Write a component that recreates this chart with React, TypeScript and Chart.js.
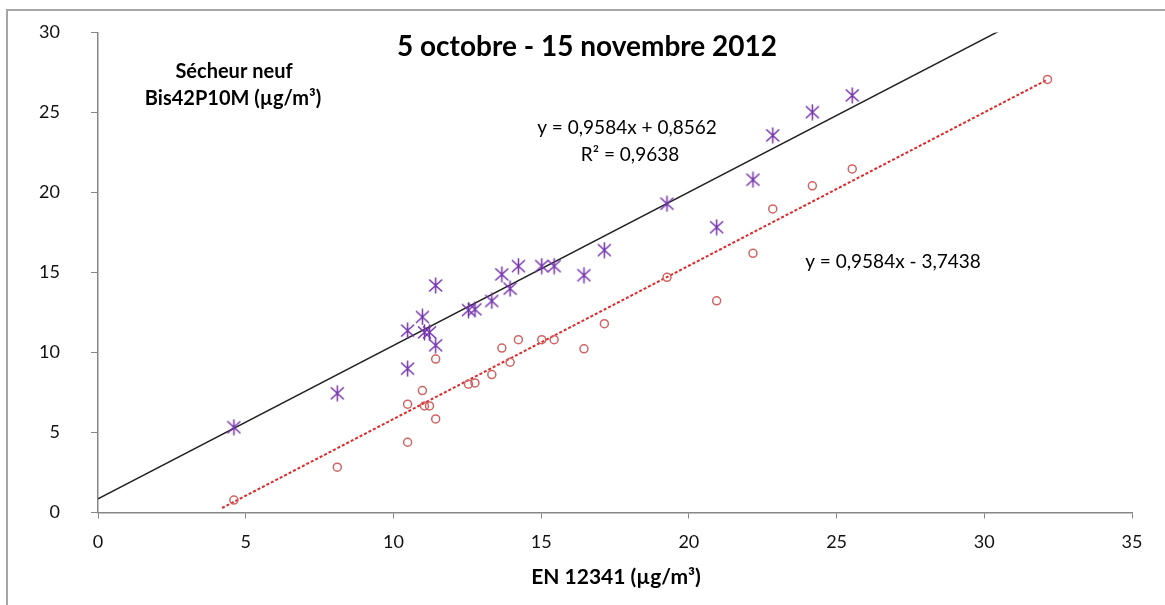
import React, { useEffect, useRef } from "react";
import { Chart, registerables } from "chart.js";

Chart.register(...registerables);

// ---- Data ----
const EN12341_X = [
  4.6, 8.1, 10.48, 10.48, 10.98, 11.05, 11.22, 11.43, 11.43, 12.54, 12.76, 13.33, 13.67,
  13.95, 14.23, 15.02, 15.44, 16.45, 17.14, 19.26, 20.94, 22.17, 22.84, 24.18, 25.53, 32.14,
];
const BIS_RAW_Y = [
  5.33, 7.45, 8.99, 11.37, 12.22, 11.26, 11.26, 10.45, 14.19, 12.65, 12.7, 13.22, 14.88,
  13.99, 15.4, 15.4, 15.4, 14.83, 16.4, 19.3, 17.83, 20.8, 23.57, 25.02, 26.07, 31.67,
];
const BIS_CORR_Y = [
  0.78, 2.83, 4.39, 6.77, 7.62, 6.66, 6.66, 5.85, 9.59, 8.02, 8.1, 8.62, 10.28,
  9.39, 10.8, 10.8, 10.8, 10.23, 11.8, 14.7, 13.23, 16.2, 18.97, 20.42, 21.47, 27.07,
];

const SLOPE = 0.9584;
const INTERCEPT_RAW = 0.8562;
const INTERCEPT_CORR = -3.7438;
const TREND_RAW_X = [0, 32.14];
const TREND_CORR_X = [4.2, 32.14];

const X_TICKS = [0, 5, 10, 15, 20, 25, 30, 35];
const Y_TICKS = [0, 5, 10, 15, 20, 25, 30];

const TITLE = "5 octobre - 15 novembre 2012";
const Y_TITLE = ["Sécheur neuf", "Bis42P10M (µg/m³)"];
const X_TITLE = "EN 12341 (µg/m³)";
const EQ_RAW = ["y = 0,9584x + 0,8562", "R² = 0,9638"];
const EQ_CORR = "y = 0,9584x - 3,7438";

const FONT = "Lato, 'Open Sans', 'DejaVu Sans', sans-serif";
const PURPLE = "#7434ac";
const CIRCLE_RED = "#d06464";
const DASH_RED = "#e02828";
const AXIS_GREY = "#868686";

function makeAsterisk(): HTMLCanvasElement {
  const c = document.createElement("canvas");
  c.width = 15;
  c.height = 17;
  const g = c.getContext("2d")!;
  g.strokeStyle = PURPLE;
  g.lineWidth = 1.5;
  g.lineCap = "butt";
  g.beginPath();
  g.moveTo(7.5, 0.5);
  g.lineTo(7.5, 16.5);
  g.moveTo(1, 2.5);
  g.lineTo(14, 14.5);
  g.moveTo(14, 2.5);
  g.lineTo(1, 14.5);
  g.stroke();
  return c;
}

const textPlugin = {
  id: "refTexts",
  afterDraw(chart: any) {
    const ctx = chart.ctx as CanvasRenderingContext2D;
    ctx.save();
    ctx.fillStyle = "#000";
    ctx.textAlign = "center";
    ctx.textBaseline = "middle";
    ctx.font = `bold 28px ${FONT}`;
    ctx.fillText(TITLE, 587, 47);
    ctx.font = `bold 20px ${FONT}`;
    ctx.fillText(Y_TITLE[0], 234, 72);
    ctx.fillText(Y_TITLE[1], 233, 99);
    ctx.font = `bold 21px ${FONT}`;
    ctx.fillText(X_TITLE, 616, 577);
    ctx.font = `19px ${FONT}`;
    ctx.fillText(EQ_RAW[0], 627, 128);
    ctx.fillText(EQ_RAW[1], 630, 155);
    ctx.fillText(EQ_CORR, 893, 262);
    ctx.restore();
  },
};

export default function App() {
  const ref = useRef<HTMLCanvasElement | null>(null);

  useEffect(() => {
    if (!ref.current) return;
    const asterisk = makeAsterisk();
    const rawPts = EN12341_X.map((x, i) => ({ x, y: BIS_RAW_Y[i] }));
    const corrPts = EN12341_X.map((x, i) => ({ x, y: BIS_CORR_Y[i] }));
    const trendRaw = TREND_RAW_X.map((x) => ({ x, y: SLOPE * x + INTERCEPT_RAW }));
    const trendCorr = TREND_CORR_X.map((x) => ({ x, y: SLOPE * x + INTERCEPT_CORR }));

    const chart = new Chart(ref.current, {
      type: "scatter",
      data: {
        datasets: [
          {
            label: "Bis42P10M",
            data: rawPts,
            pointStyle: asterisk as any,
            pointRadius: 7,
            showLine: false,
          },
          {
            label: "Bis42P10M corrigé",
            data: corrPts,
            pointStyle: "circle",
            pointRadius: 4,
            borderWidth: 1.5,
            borderColor: CIRCLE_RED,
            backgroundColor: "rgba(0,0,0,0)",
            showLine: false,
          },
          {
            label: "Tendance",
            data: trendRaw,
            showLine: true,
            pointRadius: 0,
            borderColor: "#222",
            borderWidth: 1.5,
          },
          {
            label: "Tendance corrigée",
            data: trendCorr,
            showLine: true,
            pointRadius: 0,
            borderColor: DASH_RED,
            borderWidth: 2,
            borderDash: [3, 2],
          },
        ],
      },
      options: {
        animation: false,
        responsive: false,
        maintainAspectRatio: false,
        layout: { padding: { left: 0, top: 32.5, right: 33, bottom: 0 } },
        plugins: {
          legend: { display: false },
          tooltip: { enabled: false },
          title: { display: false },
        },
        scales: {
          x: {
            type: "linear",
            min: 0,
            max: 35,
            afterFit: (s: any) => {
              s.height = 92.5;
              s.paddingLeft = 0;
              s.paddingRight = 0;
            },
            afterBuildTicks: (s: any) => {
              s.ticks = X_TICKS.map((v) => ({ value: v }));
            },
            grid: {
              display: true,
              drawOnChartArea: false,
              drawTicks: true,
              tickLength: 6,
              color: AXIS_GREY,
            },
            border: { display: true, color: AXIS_GREY, width: 1.5 },
            ticks: {
              padding: 13,
              color: "#111",
              font: { family: FONT, size: 18 },
              maxRotation: 0,
              autoSkip: false,
            },
          },
          y: {
            type: "linear",
            min: 0,
            max: 30,
            afterFit: (s: any) => {
              s.width = 98;
              s.paddingTop = 0;
              s.paddingBottom = 0;
            },
            afterBuildTicks: (s: any) => {
              s.ticks = Y_TICKS.map((v) => ({ value: v }));
            },
            grid: {
              display: true,
              drawOnChartArea: false,
              drawTicks: true,
              tickLength: 7,
              color: AXIS_GREY,
            },
            border: { display: true, color: AXIS_GREY, width: 1.5 },
            ticks: {
              padding: 31,
              color: "#111",
              font: { family: FONT, size: 18 },
              autoSkip: false,
            },
          },
        },
      },
      plugins: [textPlugin],
    });
    return () => chart.destroy();
  }, []);

  return (
    <div style={{ position: "fixed", left: 0, top: 0, width: 1165, height: 605, background: "#fff" }}>
      <canvas ref={ref} width={1165} height={605} style={{ position: "absolute", left: 0, top: 0 }} />
      <div
        style={{
          position: "absolute",
          left: 6,
          top: 9,
          right: 0,
          bottom: 0,
          borderLeft: "2px solid #a6a6a6",
          borderTop: "2px solid #a6a6a6",
          pointerEvents: "none",
        }}
      />
    </div>
  );
}
